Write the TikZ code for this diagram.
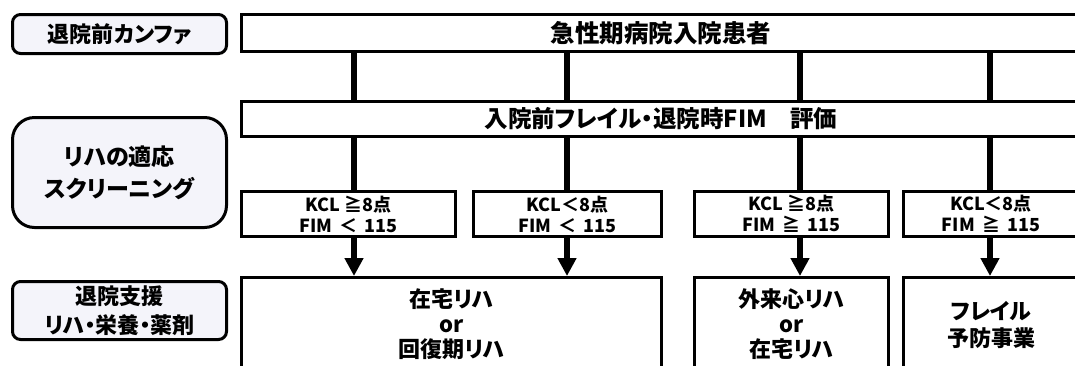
\documentclass[tikz,border=0pt]{standalone}
\usepackage{fontspec}
\setmainfont[RawFeature=+palt]{Noto Sans CJK JP}
\usetikzlibrary{arrows.meta}
\definecolor{lblfill}{HTML}{F4F4FA}
\tikzset{
  lbl/.style={draw, line width=3pt, rounded corners=8pt, fill=lblfill, align=center, inner sep=0pt,
    font=\bfseries\fontsize{23}{32}\selectfont},
  mainbox/.style={draw, line width=3pt, fill=white, align=center, inner sep=0pt},
  condbox/.style={mainbox, font=\bfseries\fontsize{18}{21}\selectfont},
  restext/.style={align=center, inner sep=0pt, font=\bfseries\fontsize{22}{25}\selectfont},
  link/.style={line width=5.5pt},
  arr/.style={line width=5.5pt, -{Triangle[width=18pt,length=18pt]}}
}
\begin{document}
\begin{tikzpicture}[x=1pt,y=-1pt]
\useasboundingbox (0,0) rectangle (1075,365);
\clip (0,0) rectangle (1075,365);
% left labels
\node[lbl, minimum width=214pt, minimum height=39pt, font=\bfseries\fontsize{22}{26}\selectfont] (L1) at (119.5,34) {退院前カンファ};
\node[lbl, rounded corners=22pt, minimum width=214pt, minimum height=110pt] (L2) at (119.5,172.5) {リハの適応\\スクリーニング};
\node[lbl, minimum width=214pt, minimum height=58pt, font=\bfseries\fontsize{22}{29}\selectfont] (L3) at (119.5,310.5) {退院支援\\リハ・栄養・薬剤};
% column guides
\coordinate (k1) at (354,0);
\coordinate (k2) at (567,0);
\coordinate (k3) at (800,0);
\coordinate (k4) at (990,0);
% top boxes
\node[mainbox, minimum width=839pt, minimum height=37pt, font=\bfseries\fontsize{24.5}{28}\selectfont] (T1) at (661,33) {急性期病院入院患者};
\node[mainbox, minimum width=839pt, minimum height=35pt, font=\bfseries\fontsize{23.5}{28}\selectfont] (T2) at (661,119) {入院前フレイル・退院時FIM\quad 評価};
% condition boxes
\node[condbox, minimum width=214pt, minimum height=45pt] (C1) at (348.5,214) {KCL ≧8点\\FIM \,＜\, 115};
\node[condbox, minimum width=188pt, minimum height=45pt] (C2) at (567.5,214) {KCL＜8点\\FIM \,＜\, 115};
\node[condbox, minimum width=194pt, minimum height=45pt] (C3) at (791.5,214) {KCL ≧8点\\FIM \,≧\, 115};
\node[condbox, minimum width=175pt, minimum height=45pt] (C4) at (991,214) {KCL＜8点\\FIM \,≧\, 115};
% result boxes
\node[mainbox, minimum width=420pt, minimum height=121pt] (R1) at (451.5,338) {};
\node[mainbox, minimum width=194pt, minimum height=121pt] (R2) at (791.5,338) {};
\node[mainbox, minimum width=175pt, minimum height=121pt] (R3) at (991,338) {};
\node[restext] (R1t) at (451.5,324) {在宅リハ\\or\\回復期リハ};
\node[restext] (R2t) at (791.5,324) {外来心リハ\\or\\在宅リハ};
\node[restext, font=\bfseries\fontsize{22}{27}\selectfont] (R3t) at (991,325) {フレイル\\予防事業};
% connectors
\foreach \k in {k1,k2,k3,k4}{
  \draw[link] (T1.south -| \k) -- (T2.north -| \k);
}
\draw[link] (T2.south -| k1) -- (C1.north -| k1);
\draw[link] (T2.south -| k2) -- (C2.north -| k2);
\draw[link] (T2.south -| k3) -- (C3.north -| k3);
\draw[link] (T2.south -| k4) -- (C4.north -| k4);
\draw[arr] (C1.south -| k1) -- (R1.north -| k1);
\draw[arr] (C2.south -| k2) -- (R1.north -| k2);
\draw[arr] (C3.south -| k3) -- (R2.north -| k3);
\draw[arr] (C4.south -| k4) -- (R3.north -| k4);
\end{tikzpicture}
\end{document}
